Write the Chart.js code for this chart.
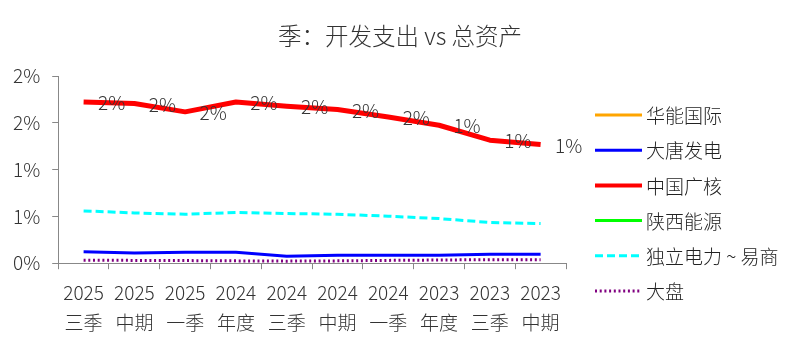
<!DOCTYPE html>
<html>
<head>
<meta charset="utf-8">
<script src="https://cdn.jsdelivr.net/npm/chart.js@4.4.1/dist/chart.umd.min.js"></script>
<style>
  html, body { margin: 0; padding: 0; background: #fff; }
  #wrap { width: 800px; height: 353px; }
</style>
</head>
<body>
<div id="wrap"><canvas id="myChart"></canvas></div>
<script>
// x categories: [year, period]
const periods = [
    ['2025', '三季'], ['2025', '中期'], ['2025', '一季'], ['2024', '年度'], ['2024', '三季'],
    ['2024', '中期'], ['2024', '一季'], ['2023', '年度'], ['2023', '三季'], ['2023', '中期']
];

// values in percent
const huaneng = [null, null, null, null, null, null, null, null, null, null];
const datang = [0.121, 0.11, 0.118, 0.118, 0.075, 0.085, 0.085, 0.085, 0.096, 0.096];
const cgn = [1.723, 1.706, 1.617, 1.723, 1.677, 1.642, 1.563, 1.474, 1.314, 1.268];
const shaanxi = [null, null, null, null, null, null, null, null, null, null];
const independent = [0.559, 0.537, 0.523, 0.542, 0.531, 0.523, 0.502, 0.477, 0.435, 0.424];
const market = [0.032, 0.03, 0.028, 0.025, 0.022, 0.025, 0.03, 0.034, 0.038, 0.038];

const yTicks = [0, 0.5, 1, 1.5, 2];

const titleText = '季：开发支出 vs 总资产';
const FONT = '"Noto Sans CJK SC", "Noto Sans", sans-serif';
const TEXT = '#333';

document.addEventListener("DOMContentLoaded", function() {
    const ctx = document.getElementById('myChart').getContext('2d');

    // percentage labels next to each point of the 中国广核 line
    const pointLabels = {
        id: 'pointLabels',
        afterDatasetsDraw(chart) {
            const meta = chart.getDatasetMeta(2);
            const c = chart.ctx;
            c.save();
            c.font = '300 19px ' + FONT;
            c.fillStyle = TEXT;
            c.textAlign = 'center';
            c.textBaseline = 'middle';
            meta.data.forEach((pt, i) => {
                c.fillText(Math.round(cgn[i]) + '%', pt.x + 28, pt.y + 1);
            });
            c.restore();
        }
    };

    // title centred on the whole canvas, legend in the space kept free on the right
    const sideLegend = {
        id: 'sideLegend',
        afterDraw(chart) {
            const c = chart.ctx;
            c.save();
            c.font = '300 23.5px ' + FONT;
            c.fillStyle = TEXT;
            c.textAlign = 'center';
            c.textBaseline = 'middle';
            c.fillText(titleText, chart.width / 2, 36);

            const x0 = chart.chartArea.right + 29;
            c.font = '300 19px ' + FONT;
            c.textAlign = 'left';
            chart.data.datasets.forEach((ds, i) => {
                const y = 115 + i * 35.2;
                c.strokeStyle = ds.borderColor;
                c.lineWidth = i === 2 ? 4 : 3;
                c.setLineDash(ds.borderDash);
                c.beginPath();
                c.moveTo(x0, y);
                c.lineTo(x0 + 47, y);
                c.stroke();
                c.setLineDash([]);
                c.fillStyle = '#222';
                c.fillText(ds.label, x0 + 51, y + 1);
            });
            c.restore();
        }
    };

    function line(label, data, color, width, dash) {
        return {
            label: label,
            data: data,
            borderColor: color,
            backgroundColor: color,
            borderWidth: width,
            borderDash: dash || [],
            borderJoinStyle: 'round',
            pointRadius: 0,
            tension: 0,
            fill: false
        };
    }

    new Chart(ctx, {
        type: 'line',
        data: {
            labels: periods,
            datasets: [
                line('华能国际', huaneng, '#ffa500', 3),
                line('大唐发电', datang, '#0000ff', 3),
                line('中国广核', cgn, '#ff0000', 5),
                line('陕西能源', shaanxi, '#00ff00', 3),
                line('独立电力 ~ 易商', independent, '#00ffff', 3, [8, 4]),
                line('大盘', market, '#800080', 3, [2, 2.7])
            ]
        },
        plugins: [pointLabels, sideLegend],
        options: {
            responsive: true,
            maintainAspectRatio: false,
            animation: false,
            layout: { padding: { left: 1, right: 234, top: 76, bottom: 7 } },
            plugins: {
                title: { display: false },
                legend: { display: false },
                tooltip: { enabled: false }
            },
            scales: {
                x: {
                    offset: true,
                    grid: {
                        display: true,
                        drawOnChartArea: false,
                        drawTicks: true,
                        tickLength: 6,
                        color: '#888',
                        offset: true
                    },
                    border: { color: '#888' },
                    ticks: {
                        color: TEXT,
                        maxRotation: 0,
                        autoSkip: false,
                        padding: 8,
                        font: { family: FONT, size: 19, weight: 300, lineHeight: 1.6 }
                    }
                },
                y: {
                    min: 0,
                    max: 2,
                    afterBuildTicks: axis => {
                        axis.ticks = yTicks.map(v => ({ value: v }));
                    },
                    grid: {
                        display: true,
                        drawOnChartArea: false,
                        drawTicks: true,
                        tickLength: 6,
                        color: '#888'
                    },
                    border: { color: '#888' },
                    ticks: {
                        color: TEXT,
                        padding: 12,
                        font: { family: FONT, size: 19, weight: 300 },
                        callback: value => Math.round(value) + '%'
                    }
                }
            }
        }
    });
});
</script>
</body>
</html>
